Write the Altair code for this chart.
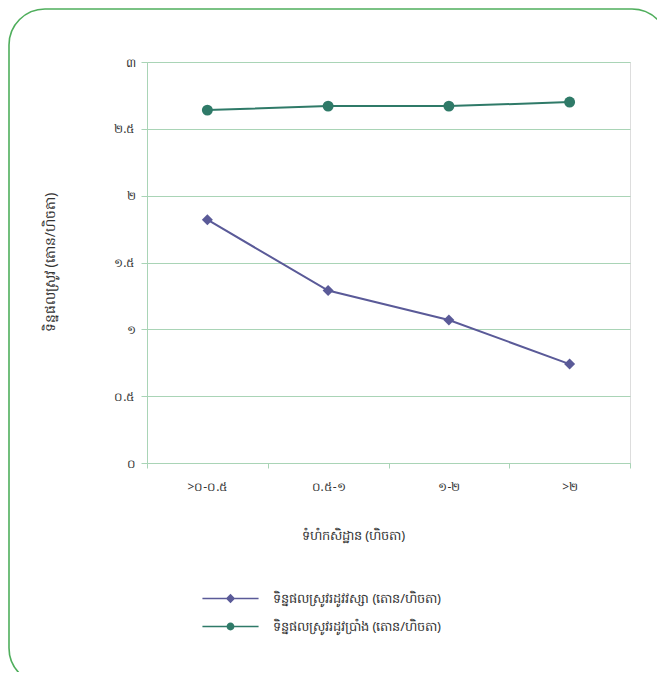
import altair as alt
import pandas as pd

categories = [">០-០.៥", "០.៥-១", "១-២", ">២"]
wet_values = [1.82, 1.29, 1.07, 0.74]
dry_values = [2.64, 2.67, 2.67, 2.70]
series_names = ["ទិន្នផលស្រូវរដូវវស្សា (តោន/ហិចតា)", "ទិន្នផលស្រូវរដូវប្រាំង (តោន/ហិចតា)"]
y_ticks = [0, 0.5, 1, 1.5, 2, 2.5, 3]
y_labels = ["០", "០.៥", "១", "១.៥", "២", "២.៥", "៣"]
x_title = "ទំហំកសិដ្ឋាន (ហិចតា)"
y_title = "ទិន្នផលស្រូវ (តោន/ហិចតា)"

colors = ["#5a5a98", "#2f7a68"]
grid_color = "#a9d4b6"
font = "Noto Sans"

rows = []
for c, w, d in zip(categories, wet_values, dry_values):
    rows.append({"cat": c, "series": series_names[0], "value": w})
    rows.append({"cat": c, "series": series_names[1], "value": d})
df = pd.DataFrame(rows)

label_expr = "{" + ",".join(f"'{t}':'{l}'" for t, l in zip(y_ticks, y_labels)) + "}[datum.value]"

x_enc = alt.X("cat:N", sort=categories, scale=alt.Scale(domain=categories),
              axis=alt.Axis(title=x_title, labelAngle=0, tickBand="extent", grid=False,
                            domainColor=grid_color, tickColor=grid_color, tickSize=5,
                            labelPadding=13, labelFontSize=12, labelColor="#333",
                            titleX=206, titleY=72, titleAlign="center", titleBaseline="middle",
                            titleFontSize=13, titleFontWeight="normal", titleColor="#333",
                            labelFont=font, titleFont=font))
y_enc = alt.Y("value:Q", scale=alt.Scale(domain=[0, 3], nice=False),
              axis=alt.Axis(title=y_title, values=y_ticks, labelExpr=label_expr,
                            grid=True, gridColor=grid_color, gridWidth=1.2,
                            domainColor=grid_color, tickColor=grid_color, tickSize=6,
                            labelPadding=6, labelFontSize=12, labelColor="#333",
                            titleX=-97, titleY=200, titleAngle=-90, titleAlign="center",
                            titleBaseline="middle", titleFontSize=14, titleFontWeight="normal",
                            titleColor="#333", labelFont=font, titleFont=font))

base = alt.Chart(df)

frame = base.transform_filter("datum.cat == '>២' && datum.series == '" + series_names[0] + "'").mark_rect(
    fill="transparent", stroke="#4fae5c", strokeWidth=1.6, cornerRadius=36, clip=False
).encode(x=alt.value(-138), x2=alt.value(521), y=alt.value(-53), y2=alt.value(622))

wet = base.transform_filter(alt.datum.series == series_names[0])
dry = base.transform_filter(alt.datum.series == series_names[1])

wet_line = wet.mark_line(color=colors[0], strokeWidth=2).encode(x=x_enc, y=y_enc)
dry_line = dry.mark_line(color=colors[1], strokeWidth=2).encode(x=x_enc, y=y_enc)
wet_pts = wet.mark_point(shape="diamond", filled=True, color=colors[0], size=120, opacity=1).encode(x=x_enc, y=y_enc)
dry_pts = dry.mark_point(shape="circle", filled=True, color=colors[1], size=120, opacity=1).encode(x=x_enc, y=y_enc)

wet_sym = "M-3,-0.09H-0.3V0.09H-3Z M0.3,-0.09H3V0.09H0.3Z M0,-0.5L0.5,0L0,0.5L-0.5,0Z"
dry_sym = ("M-3,-0.09H-0.3V0.09H-3Z M0.3,-0.09H3V0.09H0.3Z "
           "M-0.42,0A0.42,0.42,0,0,1,0.42,0A0.42,0.42,0,0,1,-0.42,0Z")

leg = dict(title=None, orient="none", legendX=74, legendY=527,
           symbolSize=350, symbolStrokeWidth=0, labelOffset=33,
           rowPadding=11, padding=0, labelFontSize=13,
           labelColor="#333", labelFont=font, labelLimit=400)

legend_layer = base.transform_filter("false").mark_point(filled=True, opacity=1).encode(
    color=alt.Color("series:N", scale=alt.Scale(domain=series_names, range=colors),
                    legend=alt.Legend(**leg)),
    shape=alt.Shape("series:N", scale=alt.Scale(domain=series_names, range=[wet_sym, dry_sym]),
                    legend=alt.Legend(**leg)),
)

chart = alt.layer(frame, wet_line, dry_line, wet_pts, dry_pts, legend_layer).properties(
    width=483, height=401,
    autosize=alt.AutoSizeParams(type="none"),
    padding={"left": 139, "top": 54, "right": 27, "bottom": 209},
).configure_view(stroke="#b9d6c6", strokeWidth=1.5).configure(background="white")

chart.save("out.html", embed_options={"renderer": "svg", "actions": False})
